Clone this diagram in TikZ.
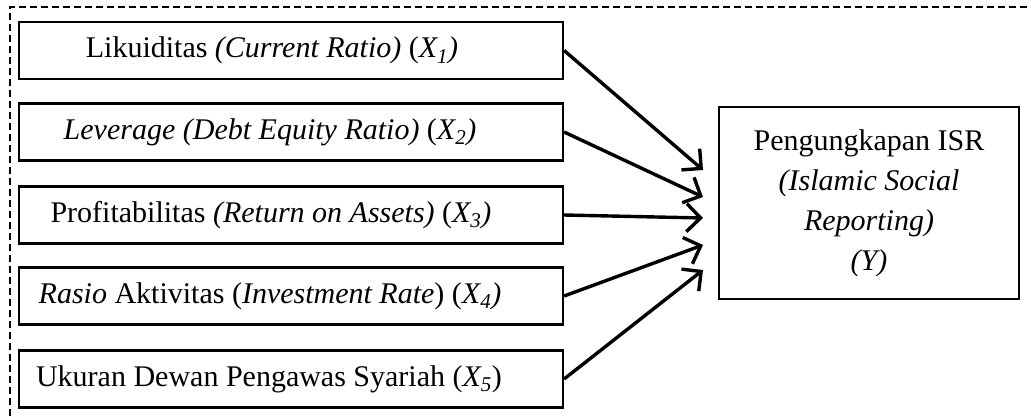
\documentclass[tikz,border=0pt]{standalone}
\usepackage{fontspec}
\setmainfont{Liberation Serif}
\usetikzlibrary{arrows.meta}
\begin{document}
\begin{tikzpicture}[x=1pt,y=-1pt,
  varbox/.style={draw=black, line width=2.2pt, minimum width=544pt, minimum height=57pt, inner sep=0pt,
    font=\fontsize{30}{36}\selectfont},
  ybox/.style={draw=black, line width=2pt, minimum width=300pt, minimum height=192pt, inner sep=0pt,
    align=center, font=\fontsize{30}{40}\selectfont},
  link/.style={line width=3.4pt, -{Straight Barb[length=14pt,width=28pt,line width=3.4pt]}},
  frame/.style={line width=2pt, dash pattern=on 7pt off 4pt}]
\useasboundingbox (0,0) rectangle (1031,416);
\draw[frame] (10,416) |- (1031,7);
\node[varbox] (x1) at (291,50.5) {Likuiditas \textit{(Current Ratio)} (\textit{X\textsubscript{1})}\kern38pt};
\node[varbox] (x2) at (291,132) {\textit{Leverage (Debt Equity Ratio)} (\textit{X\textsubscript{2})}\kern42pt};
\node[varbox] (x3) at (291,215) {Profitabilitas \textit{(Return on Assets)} (\textit{X\textsubscript{3})}\kern40pt};
\node[varbox] (x4) at (291,296) {\textit{Rasio} Aktivitas (\textit{Investment Rate}) (\textit{X\textsubscript{4})}\kern42pt};
\node[varbox] (x5) at (291,379) {Ukuran Dewan Pengawas Syariah (\textit{X\textsubscript{5}})\kern44pt};
\node[ybox] (y) at (869,203) {Pengungkapan ISR\\\textit{(Islamic Social}\\\textit{Reporting)}\\\textit{(Y)}};
\coordinate (t1) at (703,170);
\coordinate (t2) at (703,197);
\coordinate (t3) at (703,218);
\coordinate (t4) at (703,245);
\coordinate (t5) at (703,270);
\draw[link] (x1.east) -- (t1);
\draw[link] (x2.east) -- (t2);
\draw[link] (x3.east) -- (t3);
\draw[link] (x4.east) -- (t4);
\draw[link] (x5.east) -- (t5);
\end{tikzpicture}
\end{document}
